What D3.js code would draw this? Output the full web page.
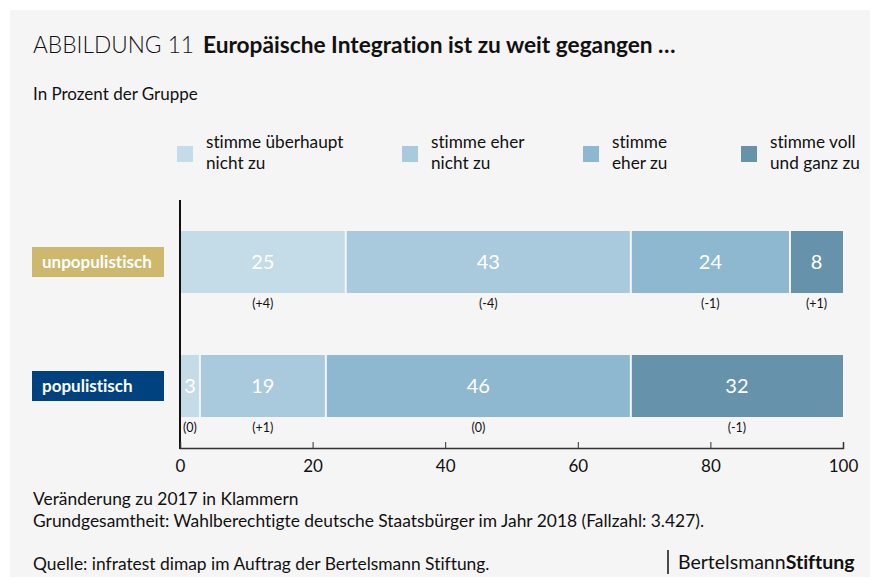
<!DOCTYPE html>
<html>
<head>
<meta charset="utf-8">
<script src="https://cdn.jsdelivr.net/npm/d3@7"></script>
<style>
  body { margin: 0; background: #fff; }
  svg { display: block; font-family: Lato, "Noto Sans", sans-serif; font-variant-ligatures: none; }
</style>
</head>
<body>
<div id="chart"></div>
<script>
const groups = ['unpopulistisch', 'populistisch'];
const groupColors = ['#ceb86d', '#00427f'];
const answers = ['stimme überhaupt|nicht zu', 'stimme eher|nicht zu', 'stimme|eher zu', 'stimme voll|und ganz zu'];
const answerColors = ['#c3dce7', '#a9c9dc', '#8db8d0', '#6693ab'];
const unpopValues = [25, 43, 24, 8];
const popValues = [3, 19, 46, 32];
const unpopChange = ['(+4)', '(-4)', '(-1)', '(+1)'];
const popChange = ['(0)', '(+1)', '(0)', '(-1)'];
const xTicks = [0, 20, 40, 60, 80, 100];

const width = 880, height = 586;
const svg = d3.select('#chart').append('svg')
  .attr('width', width).attr('height', height);

svg.append('rect').attr('x', 10).attr('y', 10)
  .attr('width', 860).attr('height', 567).attr('fill', '#f5f5f5');

// title
const title = svg.append('text').attr('x', 33).attr('y', 53)
  .attr('font-size', 22.7).attr('fill', '#111');
title.append('tspan').attr('font-weight', 300).text('ABBILDUNG 11');
title.append('tspan').attr('dx', 9).attr('font-weight', 700).text('Europäische Integration ist zu weit gegangen …');

svg.append('text').attr('x', 33).attr('y', 100).attr('font-size', 17).attr('fill', '#111')
  .text('In Prozent der Gruppe');

// legend
const legendX = [177, 402, 583, 741];
answers.forEach((a, i) => {
  svg.append('rect').attr('x', legendX[i]).attr('y', 146)
    .attr('width', 16).attr('height', 16).attr('fill', answerColors[i]);
  const t = svg.append('text').attr('x', legendX[i] + 29).attr('y', 148)
    .attr('font-size', 17.2).attr('fill', '#111');
  a.split('|').forEach((line, j) => {
    t.append('tspan').attr('x', legendX[i] + 29).attr('dy', j === 0 ? 0 : 21).text(line);
  });
});

// scales
const x = d3.scaleLinear().domain([0, 100]).range([180, 843]);
const y = d3.scaleBand().domain(groups).range([200, 448]).paddingInner(0.5).paddingOuter(0.25);

const series = [
  { name: groups[0], values: unpopValues, change: unpopChange },
  { name: groups[1], values: popValues, change: popChange }
];

series.forEach((s, gi) => {
  const cum = d3.cumsum(s.values);
  const segs = s.values.map((v, i) => ({ v, x0: cum[i] - v, x1: cum[i], i, c: s.change[i] }));
  const g = svg.append('g');
  const y0 = y(s.name), bh = y.bandwidth();
  g.selectAll('rect').data(segs).join('rect')
    .attr('x', d => x(d.x0) + (d.i > 0 ? 1 : 0))
    .attr('width', d => x(d.x1) - x(d.x0) - (d.i > 0 ? 1 : 0) - (d.i < segs.length - 1 ? 1 : 0))
    .attr('y', y0).attr('height', bh)
    .attr('fill', d => answerColors[d.i]);
  g.selectAll('text.val').data(segs).join('text').attr('class', 'val')
    .attr('x', d => x((d.x0 + d.x1) / 2))
    .attr('y', y0 + bh / 2 + 7)
    .attr('text-anchor', 'middle').attr('font-size', 20).attr('fill', '#fff')
    .text(d => d.v);
  g.selectAll('text.chg').data(segs).join('text').attr('class', 'chg')
    .attr('x', d => x((d.x0 + d.x1) / 2))
    .attr('y', y0 + bh + 15)
    .attr('text-anchor', 'middle').attr('font-size', 12.5).attr('fill', '#111')
    .text(d => d.c);
  // group label
  const cy = y0 + bh / 2;
  svg.append('rect').attr('x', 32).attr('y', cy - 15).attr('width', 132).attr('height', 30)
    .attr('fill', groupColors[gi]);
  svg.append('text').attr('x', 42).attr('y', cy + 6).attr('font-size', 17)
    .attr('font-weight', 700).attr('fill', '#fff').text(s.name);
});

// axes
svg.append('line').attr('x1', 180).attr('x2', 180).attr('y1', 200).attr('y2', 449)
  .attr('stroke', '#111').attr('stroke-width', 2);
const xAxisG = svg.append('g').attr('transform', 'translate(0,448)')
  .call(d3.axisBottom(x).tickValues(xTicks).tickSizeInner(-6).tickSizeOuter(-6).tickPadding(12));
xAxisG.select('.domain').attr('stroke', '#333').attr('stroke-width', 1.5);
xAxisG.selectAll('.tick line').attr('stroke', '#333');
xAxisG.selectAll('.tick text').attr('font-size', 17).attr('fill', '#111')
  .attr('font-family', 'Lato, sans-serif');

// footer
svg.append('text').attr('x', 33).attr('y', 505).attr('font-size', 17.4).attr('fill', '#111')
  .text('Veränderung zu 2017 in Klammern');
svg.append('text').attr('x', 33).attr('y', 527).attr('font-size', 17.4).attr('fill', '#111')
  .text('Grundgesamtheit: Wahlberechtigte deutsche Staatsbürger im Jahr 2018 (Fallzahl: 3.427).');
svg.append('text').attr('x', 33).attr('y', 570).attr('font-size', 17.4).attr('fill', '#111')
  .text('Quelle: infratest dimap im Auftrag der Bertelsmann Stiftung.');

svg.append('line').attr('x1', 668).attr('x2', 668).attr('y1', 550).attr('y2', 574)
  .attr('stroke', '#111').attr('stroke-width', 1.5);
const logo = svg.append('text').attr('x', 678).attr('y', 569).attr('font-size', 19.5).attr('fill', '#111');
logo.append('tspan').attr('font-weight', 400).text('Bertelsmann');
logo.append('tspan').attr('font-weight', 700).text('Stiftung');
</script>
</body>
</html>
